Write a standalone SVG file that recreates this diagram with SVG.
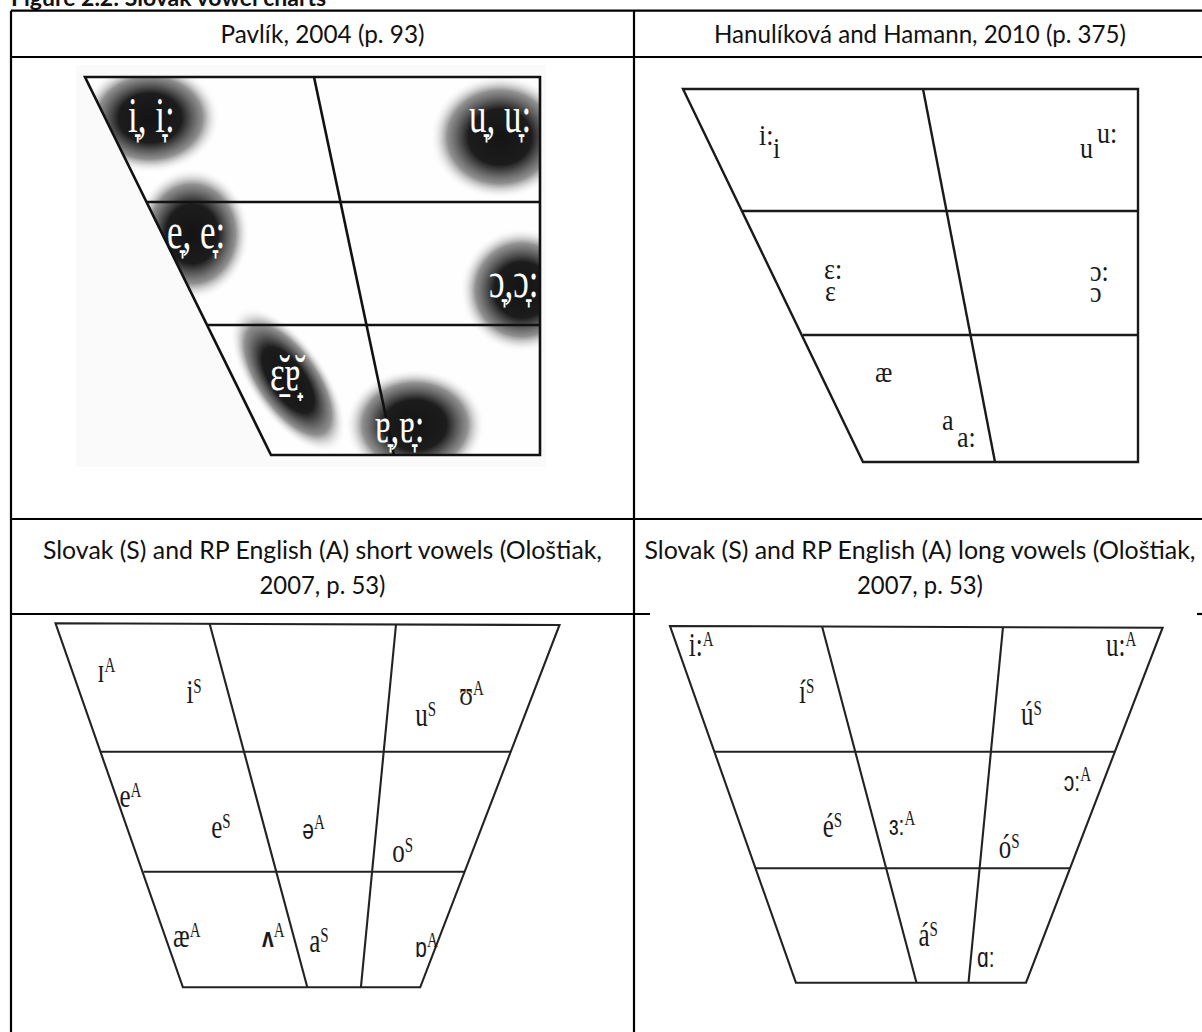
<svg xmlns="http://www.w3.org/2000/svg" width="1202" height="1032" viewBox="0 0 1202 1032">
<defs>
<style>
.rule{stroke:#000;stroke-width:2.2;fill:none}
.hdr{font-family:'Lato','Liberation Sans',sans-serif;font-size:25px;fill:#111;text-anchor:middle}
.ttl{font-family:'Lato','Liberation Sans',sans-serif;font-size:23px;font-weight:bold;fill:#111}
.g1{stroke:#111;stroke-width:2.6;fill:none;stroke-linejoin:miter}
.g2{stroke:#1a1a1a;stroke-width:2.4;fill:none}
.g3{stroke:#222;stroke-width:2.1;fill:none}
.lw{font-family:'Liberation Serif','DejaVu Serif',serif;font-size:35px;fill:#fff}
.l2{font-family:'Liberation Serif','DejaVu Serif',serif;font-size:26px;fill:#1a1a1a}
.l3{font-family:'Liberation Serif','DejaVu Serif',serif;font-size:25px;fill:#1a1a1a}
.sn{font-family:'Liberation Sans','DejaVu Sans',sans-serif;font-size:21px}
.s{font-size:15px}
</style>
<radialGradient id="blob">
<stop offset="0" stop-color="#141414" stop-opacity="1"/>
<stop offset="0.45" stop-color="#1c1c1c" stop-opacity="1"/>
<stop offset="0.75" stop-color="#555" stop-opacity="0.65"/>
<stop offset="1" stop-color="#ffffff" stop-opacity="0"/>
</radialGradient>
<clipPath id="trap1"><polygon points="85,77 540,77 540,455 271,455"/></clipPath>
</defs>

<g id="title">
<text class="ttl" x="11" y="6">Figure 2.2: Slovak vowel charts</text>
</g>

<g id="table">
<line class="rule" x1="11" y1="10.7" x2="1202" y2="10.7"/>
<line class="rule" x1="11" y1="10.7" x2="11" y2="1032"/>
<line class="rule" x1="634" y1="10.7" x2="634" y2="1032"/>
<line class="rule" x1="11" y1="57" x2="1202" y2="57"/>
<line class="rule" x1="11" y1="519" x2="1202" y2="519"/>
<line class="rule" x1="11" y1="614" x2="650" y2="614"/>
<line class="rule" x1="1197" y1="614" x2="1202" y2="614"/>
<text class="hdr" x="322.5" y="42.5" textLength="204" lengthAdjust="spacingAndGlyphs">Pavlík, 2004 (p. 93)</text>
<text class="hdr" x="920" y="42.5" textLength="412" lengthAdjust="spacingAndGlyphs">Hanulíková and Hamann, 2010 (p. 375)</text>
<text class="hdr" x="322.5" y="559" textLength="559" lengthAdjust="spacingAndGlyphs">Slovak (S) and RP English (A) short vowels (Ološtiak,</text>
<text class="hdr" x="322.5" y="593.5" textLength="126" lengthAdjust="spacingAndGlyphs">2007, p. 53)</text>
<text class="hdr" x="920" y="559" textLength="551" lengthAdjust="spacingAndGlyphs">Slovak (S) and RP English (A) long vowels (Ološtiak,</text>
<text class="hdr" x="920" y="593.5" textLength="126" lengthAdjust="spacingAndGlyphs">2007, p. 53)</text>
</g>

<g id="chart-pavlik">
<rect x="76" y="65" width="470" height="402" fill="#fafafa"/>
<polygon points="85,77 540,77 540,455 271,455" fill="#fefefe"/>
<g clip-path="url(#trap1)">
<ellipse cx="150" cy="118" rx="70" ry="55" fill="url(#blob)"/>
<ellipse cx="500" cy="137" rx="70" ry="62" fill="url(#blob)"/>
<ellipse cx="192" cy="234" rx="58" ry="66" fill="url(#blob)"/>
<ellipse cx="522" cy="290" rx="62" ry="62" fill="url(#blob)"/>
<ellipse cx="0" cy="0" rx="85" ry="38" fill="url(#blob)" transform="translate(288,380) rotate(55)"/>
<ellipse cx="415" cy="425" rx="70" ry="56" fill="url(#blob)"/>
</g>
<polygon class="g1" points="85,77 540,77 540,455 271,455"/>
<line class="g1" x1="147" y1="202" x2="540" y2="202"/>
<line class="g1" x1="208" y1="325" x2="540" y2="325"/>
<line class="g1" x1="314" y1="77" x2="394" y2="455"/>
<text class="lw" transform="translate(128,132) scale(1,1.42)">i̞, i̞:</text>
<text class="lw" transform="translate(469,132) scale(1,1.42)">u̞, u̞:</text>
<text class="lw" transform="translate(167,248) scale(1,1.42)">e̞, e̞:</text>
<text class="lw" transform="translate(489,297) scale(1,1.42)">ɔ̞,ɔ̞:</text>
<text class="lw" transform="translate(270,390) scale(1,1.42)">ɛ̠̆ɐ̟̆</text>
<text class="lw" transform="translate(375,442) scale(1,1.42)">ɐ̞,ɐ̞:</text>
</g>

<g id="chart-hanulikova">
<polygon class="g2" points="683,89 1138,89 1138,462 863,462"/>
<line class="g2" x1="742" y1="211" x2="1138" y2="211"/>
<line class="g2" x1="803" y1="335" x2="1138" y2="335"/>
<line class="g2" x1="923" y1="89" x2="995" y2="462"/>
<text class="l2" transform="translate(759,145) scale(1,1.15)">i:</text>
<text class="l2" transform="translate(773,158) scale(1,1.15)">i</text>
<text class="l2" transform="translate(1097,143) scale(1,1.15)">u:</text>
<text class="l2" transform="translate(1080,158) scale(1,1.15)">u</text>
<text class="l2" transform="translate(824,279) scale(1,1.15)">ɛ:</text>
<text class="l2" transform="translate(825,301) scale(1,1.15)">ɛ</text>
<text class="l2" transform="translate(1090,281) scale(1,1.15)">ɔ:</text>
<text class="l2" transform="translate(1090,302) scale(1,1.15)">ɔ</text>
<text class="l2" transform="translate(875,382) scale(1,1.15)">æ</text>
<text class="l2" transform="translate(942,430) scale(1,1.15)">a</text>
<text class="l2" transform="translate(957,447) scale(1,1.15)">a:</text>
</g>

<g id="chart-short">
<polygon class="g3" points="55.5,623.3 559.5,625 420.2,987.3 182.9,987.3"/>
<line class="g3" x1="101" y1="751.7" x2="511" y2="751.7"/>
<line class="g3" x1="143.5" y1="871.7" x2="465" y2="871.7"/>
<line class="g3" x1="209.7" y1="624" x2="307.3" y2="987.3"/>
<line class="g3" x1="396" y1="624.5" x2="360.9" y2="987.3"/>
<text class="l3" transform="translate(97.6,681.7) scale(1,1.35)">ɪ<tspan class="s" dy="-7.5">A</tspan></text>
<text class="l3" transform="translate(186.4,702.7) scale(1,1.35)">i<tspan class="s" dy="-7.5">S</tspan></text>
<text class="l3" transform="translate(415.2,726) scale(1,1.35)">u<tspan class="s" dy="-7.5">S</tspan></text>
<text class="l3" transform="translate(459.2,705) scale(1,1.35)">ʊ<tspan class="s" dy="-7.5">A</tspan></text>
<text class="l3" transform="translate(119.4,807.3) scale(1,1.35)">e<tspan class="s" dy="-7.5">A</tspan></text>
<text class="l3" transform="translate(211.2,838.3) scale(1,1.35)">e<tspan class="s" dy="-7.5">S</tspan></text>
<text class="l3" transform="translate(302.3,839.3) scale(1,1.35)"><tspan class="sn">ə</tspan><tspan class="s" dy="-7.5">A</tspan></text>
<text class="l3" transform="translate(392.3,861.7) scale(1,1.35)">o<tspan class="s" dy="-7.5">S</tspan></text>
<text class="l3" transform="translate(173,946.7) scale(1,1.35)">æ<tspan class="s" dy="-7.5">A</tspan></text>
<text class="l3" transform="translate(262.1,946.7) scale(1,1.35)"><tspan class="sn" font-weight="bold">ʌ</tspan><tspan class="s" dy="-7.5">A</tspan></text>
<text class="l3" transform="translate(309.2,952.3) scale(1,1.35)">a<tspan class="s" dy="-7.5">S</tspan></text>
<text class="l3" transform="translate(415.2,956.7) scale(1,1.35)"><tspan class="sn">ɒ</tspan><tspan class="s" dy="-7.5">A</tspan></text>
</g>

<g id="chart-long">
<polygon class="g3" points="670,626 1162.6,627.7 1026,982.7 795.9,982.7"/>
<line class="g3" x1="714.6" y1="751.7" x2="1114.8" y2="751.7"/>
<line class="g3" x1="755.8" y1="868.3" x2="1070" y2="868.3"/>
<line class="g3" x1="822" y1="626.3" x2="916.5" y2="982.7"/>
<line class="g3" x1="1003" y1="627.2" x2="968.5" y2="982.7"/>
<text class="l3" transform="translate(688.8,656) scale(1,1.35)">i:<tspan class="s" dy="-7.5">A</tspan></text>
<text class="l3" transform="translate(799,703.3) scale(1,1.35)">í<tspan class="s" dy="-7.5">S</tspan></text>
<text class="l3" transform="translate(1106,656) scale(1,1.35)">u:<tspan class="s" dy="-7.5">A</tspan></text>
<text class="l3" transform="translate(1021,725) scale(1,1.35)">ú<tspan class="s" dy="-7.5">S</tspan></text>
<text class="l3" transform="translate(1063.8,790.7) scale(1,1.35)"><tspan class="sn">ɔ:</tspan><tspan class="s" dy="-7.5">A</tspan></text>
<text class="l3" transform="translate(822.7,836.7) scale(1,1.35)">é<tspan class="s" dy="-7.5">S</tspan></text>
<text class="l3" transform="translate(889,835) scale(1,1.35)"><tspan class="sn">ɜ:</tspan><tspan class="s" dy="-7.5">A</tspan></text>
<text class="l3" transform="translate(998.8,858.3) scale(1,1.35)">ó<tspan class="s" dy="-7.5">S</tspan></text>
<text class="l3" transform="translate(918.4,946) scale(1,1.35)">á<tspan class="s" dy="-7.5">S</tspan></text>
<text class="l3" transform="translate(977,967.3) scale(1,1.35)"><tspan class="sn">ɑ:</tspan></text>
</g>
</svg>
